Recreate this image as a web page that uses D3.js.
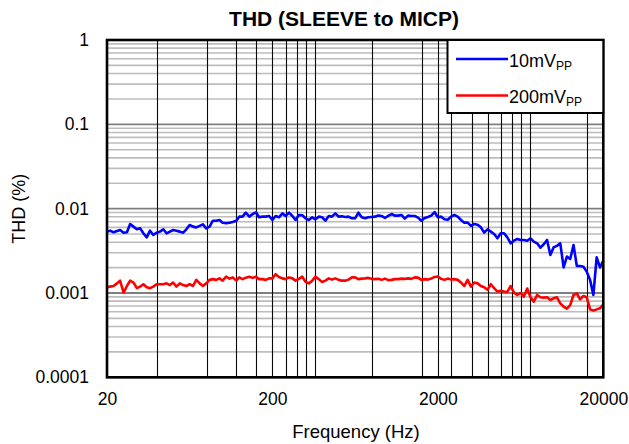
<!DOCTYPE html>
<html><head><meta charset="utf-8">
<script src="https://cdn.jsdelivr.net/npm/d3@7"></script>
<style>body{margin:0;background:#fff}svg{display:block;font-family:Arial,"Liberation Sans",sans-serif}</style>
</head><body><svg id="c" width="629" height="444"></svg>
<script>
const freq=[20,20.9,21.9,23.0,24.0,25.2,26.4,27.6,28.9,30.3,31.7,33.2,34.8,36.4,38.1,39.9,41.8,43.8,45.8,48.0,50.2,52.6,55.1,57.7,60.4,63.2,66.2,69.3,72.6,76.0,79.6,83.4,87.3,91.4,95.7,100,105,110,115,121,126,132,138,145,152,159,166,174,182,191,
200,209,219,230,240,252,264,276,289,303,317,332,348,364,381,399,418,438,458,480,502,526,551,577,604,632,662,693,726,760,796,834,873,914,957,1002,1050,1099,1151,1205,1262,1321,1384,1449,1517,1589,1664,1742,1824,1910,
2000,2094,2193,2296,2404,2518,2636,2760,2890,3027,3170,3319,3476,3639,3811,3991,4179,4376,4582,4798,5024,5261,5509,5768,6040,6325,6623,6935,7262,7604,7962,8337,8730,9141,9572,10023,10495,10990,11508,12050,12618,13212,13835,14487,15169,15884,16633,17417,18237,19097,20000];
const thd10mV=[0.00534,0.00548,0.00524,0.00543,0.00558,0.00519,0.00524,0.00658,0.00612,0.00569,
0.00584,0.00510,0.00457,0.00548,0.00487,0.00519,0.00534,0.00569,0.00510,0.00534,
0.00558,0.00548,0.00534,0.00519,0.00569,0.00640,0.00612,0.00600,0.00624,0.00652,
0.00584,0.00612,0.00720,0.00720,0.00734,0.00682,0.00670,0.00682,0.00695,0.00720,
0.00804,0.00804,0.00896,0.00804,0.00864,0.00905,0.00790,0.00804,0.00804,0.00819,
0.00734,0.00819,0.00790,0.00880,0.00819,0.00896,0.00819,0.00734,0.00841,0.00834,
0.00768,0.00734,0.00790,0.00747,0.00804,0.00790,0.00720,0.00819,0.00804,0.00880,
0.00804,0.00811,0.00797,0.00804,0.00768,0.00768,0.00896,0.00790,0.00768,0.00790,
0.00797,0.00804,0.00827,0.00819,0.00775,0.00819,0.00864,0.00827,0.00827,0.00841,
0.00761,0.00827,0.00819,0.00819,0.00782,0.00720,0.00775,0.00797,0.00827,0.00912,
0.00790,0.00804,0.00747,0.00740,0.00804,0.00841,0.00804,0.00734,0.00682,0.00682,
0.00624,0.00658,0.00646,0.00600,0.00519,0.00569,0.00534,0.00501,0.00445,0.00510,
0.00510,0.00457,0.00388,0.00417,0.00437,0.00425,0.00425,0.00417,0.00445,0.00406,
0.00388,0.00345,0.00378,0.00425,0.00282,0.00349,0.00362,0.00388,0.00201,0.00270,
0.00253,0.00371,0.00209,0.00209,0.00205,0.00179,0.00143,0.000947,0.00265,0.00201,
0.00242];
const thd200mV=[0.00117,0.00119,0.00121,0.00130,0.00140,0.00101,0.00121,0.00140,0.00133,0.00114,
0.00119,0.00127,0.00117,0.00114,0.00119,0.00127,0.00127,0.00127,0.00130,0.00124,
0.00133,0.00119,0.00130,0.00124,0.00121,0.00127,0.00121,0.00143,0.00130,0.00121,
0.00130,0.00143,0.00146,0.00143,0.00149,0.00140,0.00156,0.00148,0.00153,0.00140,
0.00153,0.00146,0.00152,0.00156,0.00151,0.00156,0.00146,0.00146,0.00143,0.00149,
0.00149,0.00167,0.00155,0.00149,0.00146,0.00153,0.00149,0.00140,0.00147,0.00156,
0.00136,0.00130,0.00140,0.00156,0.00146,0.00135,0.00140,0.00149,0.00144,0.00149,
0.00143,0.00140,0.00140,0.00144,0.00153,0.00153,0.00146,0.00148,0.00149,0.00151,
0.00147,0.00146,0.00147,0.00143,0.00148,0.00142,0.00143,0.00146,0.00146,0.00148,
0.00147,0.00149,0.00147,0.00153,0.00152,0.00143,0.00146,0.00144,0.00148,0.00155,
0.00157,0.00147,0.00143,0.00148,0.00144,0.00146,0.00143,0.00133,0.00121,0.00143,
0.00119,0.00133,0.00130,0.00121,0.00117,0.00109,0.00127,0.00114,0.00104,0.00106,
0.00104,0.00103,0.00121,0.00101,0.000947,0.00100,0.000905,0.00113,0.000889,0.000789,
0.000947,0.000889,0.000880,0.000889,0.000826,0.000865,0.000889,0.000754,0.000689,0.000652,
0.000716,0.000947,0.000991,0.000842,0.000922,0.000889,0.000639,0.000618,0.000639,0.000658,
0.000734];
const seriesNames=["10mV","200mV"];
const seriesColors=["#0000ff","#ff0000"];
const xTicks=[20,200,2000,20000];
const xTickLabels=["20","200","2000","20000"];
const yTicks=[1,0.1,0.01,0.001,0.0001];
const yTickLabels=["1","0.1","0.01","0.001","0.0001"];
const xGrid=[40,80,120,160,200,240,280,320,360,800,1600,2000,2400,3200,4000,4800,5600,6400,7200,16000];

const L=107,R=603.3,T=40,B=377.3;
const svg=d3.select("#c");
const x=d3.scaleLog().domain([20,20000]).range([L,R]);
const y=d3.scaleLog().domain([0.0001,1]).range([B,T]);

const minor=y.ticks().filter(v=>!yTicks.some(t=>Math.abs(t-v)/t<1e-6));
svg.append("g").selectAll("line").data(minor).join("line")
  .attr("x1",L).attr("x2",R).attr("y1",d=>y(d)).attr("y2",d=>y(d))
  .attr("stroke","#bdbdbd").attr("stroke-width",1.6);
svg.append("g").selectAll("line").data(yTicks).join("line")
  .attr("x1",L).attr("x2",R).attr("y1",d=>y(d)).attr("y2",d=>y(d))
  .attr("stroke","#7f7f7f").attr("stroke-width",1.8);
svg.append("g").selectAll("line").data(xGrid).join("line")
  .attr("x1",d=>Math.round(x(d))+0.5).attr("x2",d=>Math.round(x(d))+0.5).attr("y1",T).attr("y2",B)
  .attr("stroke","#0a0a0a").attr("stroke-width",1.1);

const series=[thd10mV,thd200mV];
const line=d3.line().x(d=>x(d[0])).y(d=>y(d[1]));
series.forEach((s,i)=>{
  svg.append("path").datum(freq.map((f,j)=>[f,s[j]]))
    .attr("d",line).attr("fill","none").attr("stroke",seriesColors[i])
    .attr("stroke-width",2.6).attr("stroke-linejoin","round");
});

svg.append("rect").attr("x",L).attr("y",T).attr("width",R-L).attr("height",B-T)
  .attr("fill","none").attr("stroke","#000").attr("stroke-width",2.6);

const FF="Arial,'Liberation Sans',sans-serif";
const xa=d3.axisBottom(x).tickValues(xTicks).tickFormat((d,i)=>xTickLabels[i]).tickSize(0).tickPadding(15);
const gx=svg.append("g").attr("transform",`translate(0,${B})`).call(xa);
gx.select(".domain").remove();
gx.selectAll("text").attr("font-size",17.5).attr("fill","#000").attr("font-family",FF);
const ya=d3.axisLeft(y).tickValues(yTicks).tickFormat((d,i)=>yTickLabels[i]).tickSize(0).tickPadding(18);
const gy=svg.append("g").attr("transform",`translate(${L},0)`).call(ya);
gy.select(".domain").remove();
gy.selectAll("text").attr("font-size",17.5).attr("fill","#000").attr("font-family",FF);

svg.append("text").attr("x",356).attr("y",438).attr("text-anchor","middle")
  .attr("font-size",18.5).text("Frequency (Hz)");
svg.append("text").attr("transform",`translate(25,${(T+B)/2}) rotate(-90)`).attr("text-anchor","middle")
  .attr("font-size",18).text("THD (%)");
svg.append("text").attr("x",344).attr("y",26).attr("text-anchor","middle")
  .attr("font-size",21).attr("font-weight","bold").text("THD (SLEEVE to MICP)");

const lg=svg.append("g");
lg.append("rect").attr("x",447.5).attr("y",T).attr("width",R-447.5).attr("height",73)
  .attr("fill","#fff").attr("stroke","#000").attr("stroke-width",2);
seriesNames.forEach((n,i)=>{
  const yy=59+i*36.5;
  lg.append("line").attr("x1",456).attr("x2",508).attr("y1",yy).attr("y2",yy)
    .attr("stroke",seriesColors[i]).attr("stroke-width",2.6);
  const t=lg.append("text").attr("x",509).attr("y",yy+7.5).attr("font-size",18);
  t.append("tspan").text(n);
  t.append("tspan").attr("font-size",12).attr("dy",3).text("PP");
});
</script></body></html>
